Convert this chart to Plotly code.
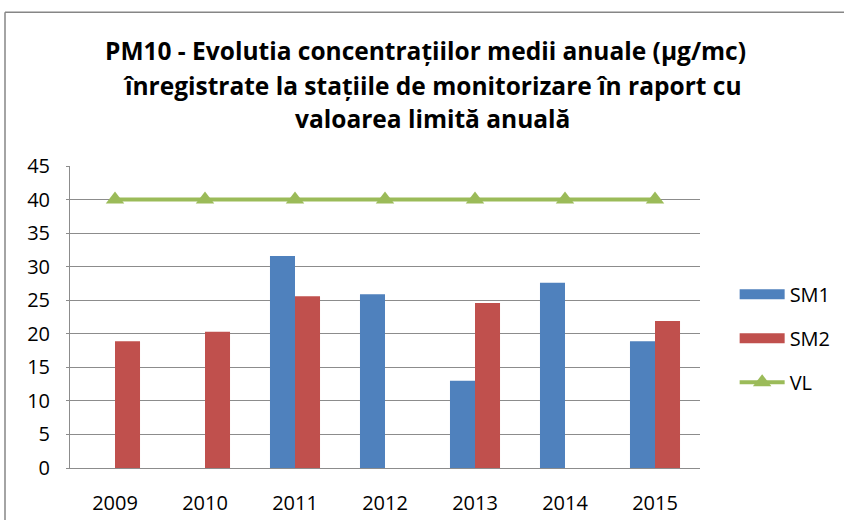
import plotly.graph_objects as go

years = ["2009", "2010", "2011", "2012", "2013", "2014", "2015"]
sm1 = [None, None, 31.6, 25.9, 13.0, 27.6, 18.9]
sm2 = [18.9, 20.3, 25.6, None, 24.6, None, 21.9]
vl = [40, 40, 40, 40, 40, 40, 40]
title_lines = [
    "PM10 - Evolutia concentrațiilor medii anuale (µg/mc)",
    "înregistrate la stațiile de monitorizare în raport cu",
    "valoarea limită anuală",
]

FONT = "Open Sans"
C1, C2, C3 = "#4F81BD", "#C0504D", "#9BBB59"
fig = go.Figure()
fig.add_trace(go.Bar(x=years, y=sm1, name="SM1", marker=dict(color=C1, line=dict(width=0)), showlegend=False))
fig.add_trace(go.Bar(x=years, y=sm2, name="SM2", marker=dict(color=C2, line=dict(width=0)), showlegend=False))
fig.add_trace(go.Scatter(x=years, y=vl, name="VL", mode="lines+markers", legendgroup="c", legendrank=3,
                         line=dict(color=C3, width=4),
                         marker=dict(symbol="triangle-up", size=16, color=C3)))
# legend entries for the bar series (wide swatches like the original)
fig.add_trace(go.Scatter(x=[None], y=[None], name="SM1", mode="lines", legendgroup="a", legendrank=1,
                         line=dict(color=C1, width=13)))
fig.add_trace(go.Scatter(x=[None], y=[None], name="SM2", mode="lines", legendgroup="b", legendrank=2,
                         line=dict(color=C2, width=13)))

plot_h = 302.0
top_px = [50, 85, 118]
center_px = [425, 433, 433]
for i, t in enumerate(title_lines):
    fig.add_annotation(text="<b>" + t + "</b>", x=(center_px[i] - 70) / 630, xref="paper", xanchor="center",
                       y=(467.7 - top_px[i]) / plot_h, yref="paper", yanchor="middle",
                       showarrow=False, font=dict(family=FONT, size=24.5, color="#000000"))

# outer chart border (top and left edges visible in the crop)
bx = (5 - 70) / 630
by = (467.7 - 12) / plot_h
fig.add_shape(type="line", xref="paper", yref="paper", x0=bx, x1=(900 - 70) / 630, y0=by, y1=by,
              line=dict(color="#868686", width=1.5), layer="below")
fig.add_shape(type="line", xref="paper", yref="paper", x0=bx, x1=bx, y0=by, y1=(467.7 - 600) / plot_h,
              line=dict(color="#868686", width=1.5), layer="below")

fig.update_layout(
    width=844, height=520,
    margin=dict(l=70, r=144, t=166, b=52, autoexpand=False),
    paper_bgcolor="white", plot_bgcolor="white",
    barmode="group", bargap=0.444, bargroupgap=0,
    font=dict(family=FONT, size=20, color="#000000"),
    showlegend=True,
    legend=dict(x=1.055, xanchor="left", y=0.64, yanchor="top", tracegroupgap=15,
                font=dict(family=FONT, size=20), itemwidth=45),
)
fig.update_yaxes(range=[0, 45], dtick=5, showgrid=True, gridcolor="#8C8C8C", gridwidth=1,
                 showline=True, linecolor="#8C8C8C", linewidth=1, ticks="outside", ticklen=3,
                 tickcolor="#8C8C8C", zeroline=False, ticklabelstandoff=12)
fig.update_xaxes(showgrid=False, showline=True, linecolor="#8C8C8C", linewidth=1, ticks="",
                 ticklabelstandoff=17)
fig.write_html("out.html", config={"displayModeBar": False},
               post_script="document.body.style.margin='0';document.body.style.overflow='hidden';")
